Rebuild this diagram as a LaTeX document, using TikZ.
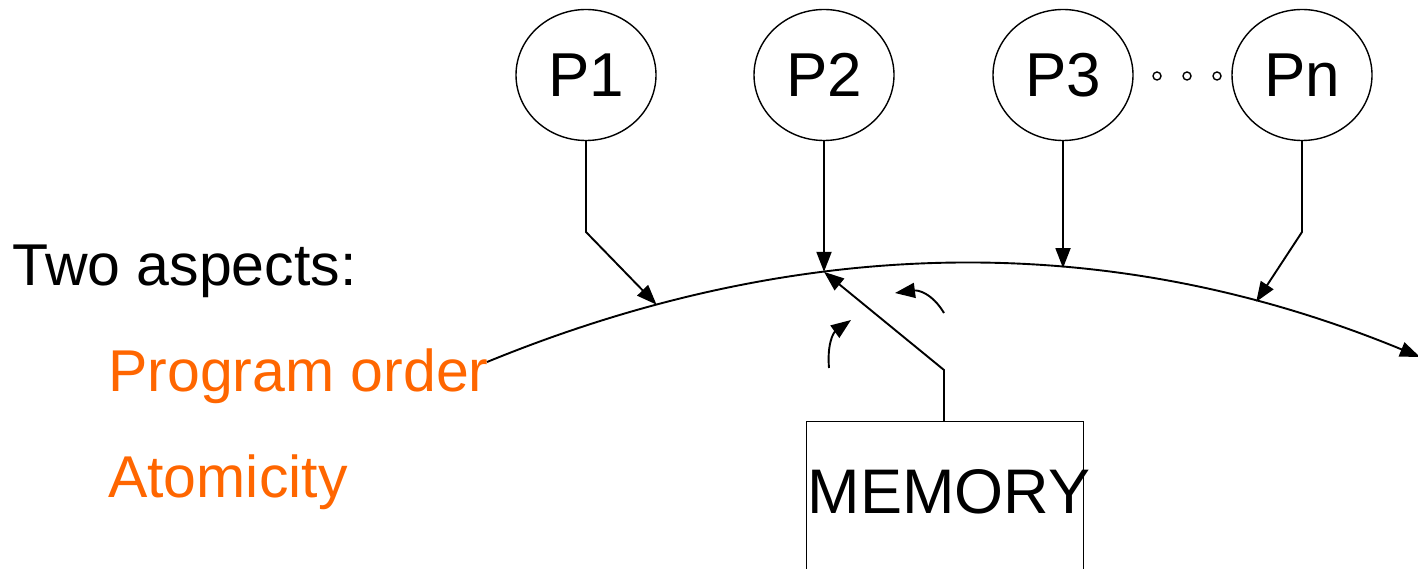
\documentclass[tikz,border=0pt]{standalone}
\usepackage{fontspec}
\setmainfont{Liberation Sans}
\usetikzlibrary{arrows.meta,shapes.geometric}
\definecolor{aspect}{HTML}{FF6600}
\tikzset{
  proc/.style={draw,ellipse,line width=1.4pt,minimum width=140pt,minimum height=131pt,inner sep=0pt,font=\fontsize{62}{70}\selectfont},
  link/.style={line width=1.9pt,-{Triangle[length=20pt,width=15pt]}},
  dot/.style={draw,circle,line width=1.4pt,minimum size=8pt,inner sep=0pt},
  lbl/.style={anchor=base west,inner sep=0pt,font=\fontsize{59}{66}\selectfont}
}
\begin{document}
\begin{tikzpicture}[x=1pt,y=-1pt]
\useasboundingbox (0,0) rectangle (1418,569);
% processors
\node[proc] (p1) at (586,75) {P1};
\node[proc] (p2) at (824,75) {P2};
\node[proc] (p3) at (1063,75) {P3};
\node[proc] (pn) at (1302,75) {Pn};
\node[dot] (d1) at (1157,76) {};
\node[dot] (d2) at (1187,76) {};
\node[dot] (d3) at (1217,76) {};
% memory
\node[draw,line width=1.4pt,minimum width=277pt,minimum height=180pt,inner sep=0pt,anchor=north west] (mem) at (806,421) {};
\node[anchor=base,inner sep=0pt,font=\fontsize{63}{70}\selectfont] (memtxt) at (949,513) {MEMORY};
% texts
\node[lbl] (two) at (12,285) {Two aspects:};
\node[lbl,text=aspect] (po) at (108,391) {Program order};
\node[lbl,text=aspect] (at) at (108,497) {Atomicity};
% the curve (order line)
\coordinate (cs) at (487,362);
\coordinate (ce) at (1420,357);
\draw[link] (cs) .. controls (801.7,233) and (1112,230) .. (ce)
  coordinate[pos=0.18] (c1)
  coordinate[pos=0.36] (c2)
  coordinate[pos=0.617] (c3)
  coordinate[pos=0.823] (c4);
% bends
\coordinate (b1) at (586,232);
\coordinate (b4) at (1302,232);
\coordinate (bm) at (944,370);
\draw[link] (p1.south) -- (b1) -- (c1);
\draw[link] (p2.south) -- (p2.south |- c2);
\draw[link] (p3.south) -- (p3.south |- c3);
\draw[link] (pn.south) -- (b4) -- (c4);
\draw[link] (mem.north -| bm) -- (bm) -- (p2.south |- c2);
% small curved arrows
\coordinate (s1a) at (829,368);
\coordinate (s1b) at (851,320);
\coordinate (s2a) at (944,313);
\coordinate (s2b) at (895,293);
\draw[link] (s1a) .. controls (827,345) and (833,333) .. (s1b);
\draw[link] (s2a) .. controls (932,293) and (918,290) .. (s2b);
\end{tikzpicture}
\end{document}
